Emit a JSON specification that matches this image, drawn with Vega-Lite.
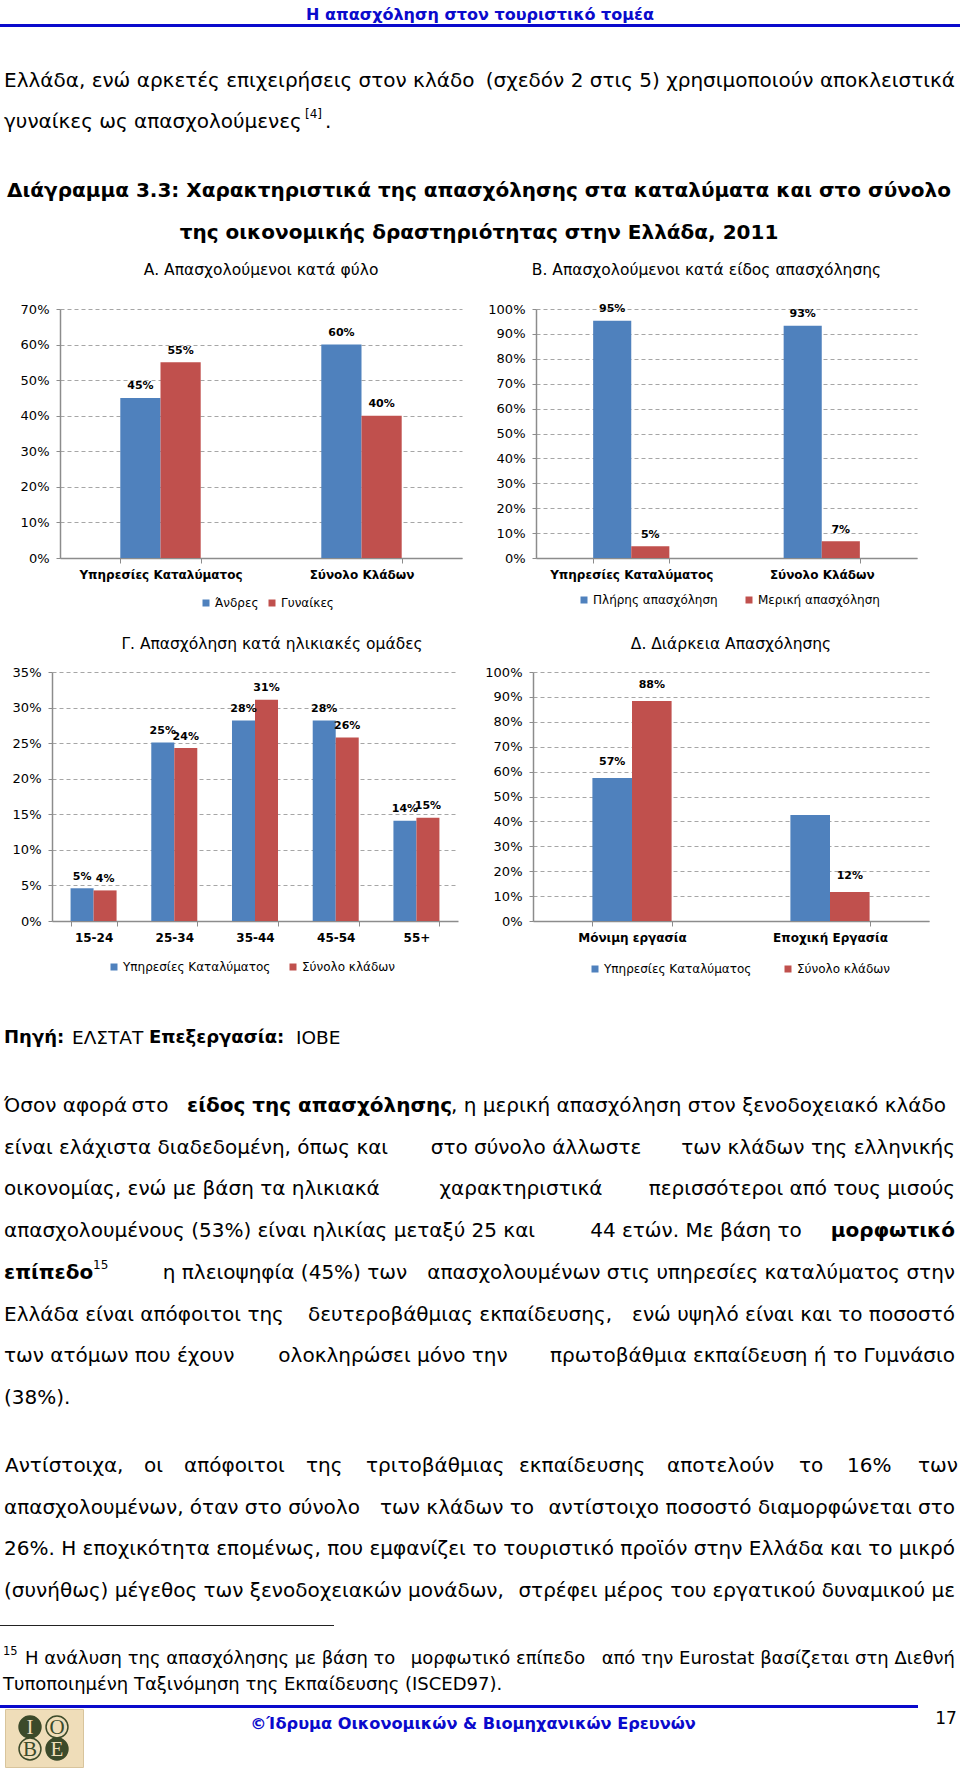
{
"$schema":"https://vega.github.io/schema/vega-lite/v6.json",
"padding":0,
"background":"white",
"spacing":0,
"bounds":"full",
"resolve":{"scale":{"x":"independent","y":"independent","color":"independent","xOffset":"independent"},"axis":{"x":"independent","y":"independent"},"legend":{"color":"independent"}},
"config":{
 "view":{"stroke":null},
 "font":"DejaVu Sans",
 "text":{"font":"DejaVu Sans","fontSize":20,"baseline":"middle","color":"#000"},
 "axisX":{"labelAngle":0,"labelFont":"DejaVu Sans","labelFontWeight":"bold","labelFontSize":12,"labelColor":"#000","labelLimit":0,"labelPadding":6,"domainColor":"#8C8C8C","domainWidth":1.5,"tickColor":"#8C8C8C","tickSize":5,"tickBand":"extent","grid":false},
 "axisY":{"labelFont":"DejaVu Sans","labelFontSize":13,"labelColor":"#000","labelPadding":7,"domainColor":"#8C8C8C","domainWidth":1.5,"tickColor":"#8C8C8C","tickSize":4,"grid":true,"gridColor":"#A6A6A6","gridDash":[4,3],"gridWidth":1},
 "legend":{"orient":"none","direction":"horizontal","symbolType":"square","symbolSize":49,"labelFont":"DejaVu Sans","labelFontSize":12,"labelColor":"#000","labelOffset":3,"padding":0,"symbolStrokeWidth":0},
 "title":{"font":"DejaVu Sans","fontSize":15.5,"fontWeight":"normal","color":"#000","anchor":"middle","frame":"group","baseline":"middle","offset":25}
},
"vconcat":[
 {"width":960,"height":24,"data":{"values":[{"t":"Η απασχόληση στον τουριστικό τομέα"}]},"mark":{"type":"text","fontWeight":"bold","fontSize":16,"color":"#0A0ACC","align":"center","dy":3},"encoding":{"text":{"field":"t"}}},
 {"width":960,"height":3,"view":{"fill":"#0A0ACC","stroke":null},"data":{"values":[]},"mark":"text","encoding":{"text":{"value":""}}},
 {"width":960,"height":33,"data":{"values":[]},"mark":"text","encoding":{"text":{"value":""}}},
 {"width":960,"height":82,
  "data":{"values":[
   {"ln":1,"p":"L","t":"Ελλάδα, ενώ αρκετές επιχειρήσεις στον κλάδο"},
   {"ln":1,"p":"R","t":"(σχεδόν 2 στις 5) χρησιμοποιούν αποκλειστικά"},
   {"ln":2,"p":"L","t":"γυναίκες ως απασχολούμενες"},
   {"ln":2,"p":"S","t":"[4]"},
   {"ln":2,"p":"D","t":"."}]},
  "encoding":{"y":{"field":"ln","type":"ordinal","axis":null},"text":{"field":"t"}},
  "layer":[
   {"transform":[{"filter":"datum.p=='L'"}],"mark":{"type":"text","align":"left"},"encoding":{"x":{"value":4}}},
   {"transform":[{"filter":"datum.p=='R'"}],"mark":{"type":"text","align":"right"},"encoding":{"x":{"value":955}}},
   {"transform":[{"filter":"datum.p=='S'"}],"mark":{"type":"text","align":"left","fontSize":12,"dy":-8},"encoding":{"x":{"value":305}}},
   {"transform":[{"filter":"datum.p=='D'"}],"mark":{"type":"text","align":"left"},"encoding":{"x":{"value":325}}}
  ]},
 {"width":960,"height":28,"data":{"values":[]},"mark":"text","encoding":{"text":{"value":""}}},
 {"width":960,"height":84,
  "data":{"values":[
   {"ln":1,"t":"Διάγραμμα 3.3: Χαρακτηριστικά της απασχόλησης στα καταλύματα και στο σύνολο"},
   {"ln":2,"t":"της οικονομικής δραστηριότητας στην Ελλάδα, 2011"}]},
  "mark":{"type":"text","align":"center","fontWeight":"bold"},
  "encoding":{"y":{"field":"ln","type":"ordinal","axis":null},"x":{"value":479},"text":{"field":"t"}}},
 {"width":960,"height":8,"data":{"values":[]},"mark":"text","encoding":{"text":{"value":""}}},
 {"hconcat":[
   {"width":60,"height":1,"data":{"values":[]},"mark":"text","encoding":{"text":{"value":""}}},
   {"width":402,"height":249,
    "title":{"text":"Α. Απασχολούμενοι κατά φύλο"},
    "data":{"values":[
     {"c":"Υπηρεσίες Καταλύματος","s":"Άνδρες","v":0.45,"l":"45%"},
     {"c":"Υπηρεσίες Καταλύματος","s":"Γυναίκες","v":0.55,"l":"55%"},
     {"c":"Σύνολο Κλάδων","s":"Άνδρες","v":0.60,"l":"60%"},
     {"c":"Σύνολο Κλάδων","s":"Γυναίκες","v":0.40,"l":"40%"}]},
    "encoding":{
     "x":{"field":"c","type":"nominal","sort":null,"scale":{"paddingInner":0.6,"paddingOuter":0.3},"axis":{"title":null}},
     "xOffset":{"field":"s","type":"nominal","sort":null},
     "y":{"field":"v","type":"quantitative","scale":{"domain":[0,0.7]},"axis":{"title":null,"values":[0,0.1,0.2,0.3,0.4,0.5,0.6,0.7],"format":".0%"}}},
    "layer":[
     {"mark":"bar","encoding":{"color":{"field":"s","type":"nominal","sort":null,"scale":{"range":["#4F81BD","#C0504D"]},"legend":{"title":null,"legendX":140,"legendY":288,"columnPadding":7}}}},
     {"mark":{"type":"text","fontWeight":"bold","fontSize":11,"dy":-11.5},"encoding":{"text":{"field":"l"}}}
    ]},
   {"width":74,"height":1,"data":{"values":[]},"mark":"text","encoding":{"text":{"value":""}}},
   {"width":381,"height":249,
    "title":{"text":"Β. Απασχολούμενοι κατά είδος απασχόλησης","dx":-20},
    "data":{"values":[
     {"c":"Υπηρεσίες Καταλύματος","s":"Πλήρης απασχόληση","v":0.953,"l":"95%"},
     {"c":"Υπηρεσίες Καταλύματος","s":"Μερική απασχόληση","v":0.047,"l":"5%"},
     {"c":"Σύνολο Κλάδων","s":"Πλήρης απασχόληση","v":0.933,"l":"93%"},
     {"c":"Σύνολο Κλάδων","s":"Μερική απασχόληση","v":0.067,"l":"7%"}]},
    "encoding":{
     "x":{"field":"c","type":"nominal","sort":null,"scale":{"paddingInner":0.6,"paddingOuter":0.3},"axis":{"title":null}},
     "xOffset":{"field":"s","type":"nominal","sort":null},
     "y":{"field":"v","type":"quantitative","scale":{"domain":[0,1]},"axis":{"title":null,"values":[0,0.1,0.2,0.3,0.4,0.5,0.6,0.7,0.8,0.9,1],"format":".0%"}}},
    "layer":[
     {"mark":"bar","encoding":{"color":{"field":"s","type":"nominal","sort":null,"scale":{"range":["#4F81BD","#C0504D"]},"legend":{"title":null,"legendX":42,"legendY":285,"columnPadding":25}}}},
     {"mark":{"type":"text","fontWeight":"bold","fontSize":11,"dy":-11.5},"encoding":{"text":{"field":"l"}}}
    ]}
  ],
  "spacing":0,"bounds":"flush",
  "resolve":{"scale":{"x":"independent","y":"independent","color":"independent","xOffset":"independent"},"axis":{"x":"independent","y":"independent"},"legend":{"color":"independent"}}},
 {"width":960,"height":26.5,"data":{"values":[]},"mark":"text","encoding":{"text":{"value":""}}},
 {"hconcat":[
   {"width":52,"height":1,"data":{"values":[]},"mark":"text","encoding":{"text":{"value":""}}},
   {"width":406,"height":249,
    "title":{"text":"Γ. Απασχόληση κατά ηλικιακές ομάδες","dx":17,"offset":14},
    "data":{"values":[
     {"c":"15-24","s":"Υπηρεσίες Καταλύματος","v":0.046,"l":"5%"},
     {"c":"15-24","s":"Σύνολο κλάδων","v":0.043,"l":"4%"},
     {"c":"25-34","s":"Υπηρεσίες Καταλύματος","v":0.251,"l":"25%"},
     {"c":"25-34","s":"Σύνολο κλάδων","v":0.243,"l":"24%"},
     {"c":"35-44","s":"Υπηρεσίες Καταλύματος","v":0.282,"l":"28%"},
     {"c":"35-44","s":"Σύνολο κλάδων","v":0.311,"l":"31%"},
     {"c":"45-54","s":"Υπηρεσίες Καταλύματος","v":0.282,"l":"28%"},
     {"c":"45-54","s":"Σύνολο κλάδων","v":0.258,"l":"26%"},
     {"c":"55+","s":"Υπηρεσίες Καταλύματος","v":0.141,"l":"14%"},
     {"c":"55+","s":"Σύνολο κλάδων","v":0.145,"l":"15%"}]},
    "encoding":{
     "x":{"field":"c","type":"nominal","sort":null,"scale":{"paddingInner":0.43,"paddingOuter":0.23},"axis":{"title":null}},
     "xOffset":{"field":"s","type":"nominal","sort":null},
     "y":{"field":"v","type":"quantitative","scale":{"domain":[0,0.35]},"axis":{"title":null,"values":[0,0.05,0.1,0.15,0.2,0.25,0.3,0.35],"format":".0%"}}},
    "layer":[
     {"mark":"bar","encoding":{"color":{"field":"s","type":"nominal","sort":null,"scale":{"range":["#4F81BD","#C0504D"]},"legend":{"title":null,"legendX":56,"legendY":289,"columnPadding":16}}}},
     {"mark":{"type":"text","fontWeight":"bold","fontSize":11,"dy":-11.5},"encoding":{"text":{"field":"l"}}}
    ]},
   {"width":75,"height":1,"data":{"values":[]},"mark":"text","encoding":{"text":{"value":""}}},
   {"width":396,"height":249,
    "title":{"text":"Δ. Διάρκεια Απασχόλησης","offset":14},
    "data":{"values":[
     {"c":"Μόνιμη εργασία","s":"Υπηρεσίες Καταλύματος","v":0.574,"l":"57%"},
     {"c":"Μόνιμη εργασία","s":"Σύνολο κλάδων","v":0.884,"l":"88%"},
     {"c":"Εποχική Εργασία","s":"Υπηρεσίες Καταλύματος","v":0.426,"l":""},
     {"c":"Εποχική Εργασία","s":"Σύνολο κλάδων","v":0.116,"l":"12%"}]},
    "encoding":{
     "x":{"field":"c","type":"nominal","sort":null,"scale":{"paddingInner":0.6,"paddingOuter":0.3},"axis":{"title":null}},
     "xOffset":{"field":"s","type":"nominal","sort":null},
     "y":{"field":"v","type":"quantitative","scale":{"domain":[0,1]},"axis":{"title":null,"values":[0,0.1,0.2,0.3,0.4,0.5,0.6,0.7,0.8,0.9,1],"format":".0%"}}},
    "layer":[
     {"mark":"bar","encoding":{"color":{"field":"s","type":"nominal","sort":null,"scale":{"range":["#4F81BD","#C0504D"]},"legend":{"title":null,"legendX":56,"legendY":291,"columnPadding":30}}}},
     {"mark":{"type":"text","fontWeight":"bold","fontSize":11,"dy":-16},"encoding":{"text":{"field":"l"}}}
    ]}
  ],
  "spacing":0,"bounds":"flush",
  "resolve":{"scale":{"x":"independent","y":"independent","color":"independent","xOffset":"independent"},"axis":{"x":"independent","y":"independent"},"legend":{"color":"independent"}}},
 {"width":960,"height":42,"data":{"values":[]},"mark":"text","encoding":{"text":{"value":""}}},
 {"width":960,"height":42,
  "data":{"values":[
   {"k":1,"b":"y","t":"Πηγή:"},
   {"k":2,"b":"n","t":"ΕΛΣΤΑΤ"},
   {"k":3,"b":"y","t":"Επεξεργασία:"},
   {"k":4,"b":"n","t":"ΙΟΒΕ"}]},
  "encoding":{"x":{"field":"k","type":"quantitative","axis":null,"scale":{"domain":[1,2,3,4],"range":[4,72,149,296],"zero":false,"nice":false}},"text":{"field":"t"}},
  "layer":[
   {"transform":[{"filter":"datum.b=='y'"}],"mark":{"type":"text","align":"left","fontWeight":"bold","fontSize":18}},
   {"transform":[{"filter":"datum.b=='n'"}],"mark":{"type":"text","align":"left","fontSize":18.5}}
  ]},
 {"width":960,"height":26,"data":{"values":[]},"mark":"text","encoding":{"text":{"value":""}}},
 {"width":960,"height":334,
  "data":{"values":[
   {"ln":1,"p":"L","t":"Όσον αφορά"},
   {"ln":1,"p":"M","t":"στο"},
   {"ln":1,"p":"BX","t":"είδος της απασχόλησης"},
   {"ln":1,"p":"RX","t":", η μερική απασχόληση στον ξενοδοχειακό κλάδο"},
   {"ln":2,"p":"L","t":"είναι ελάχιστα διαδεδομένη, όπως και"},
   {"ln":2,"p":"M","t":"στο σύνολο άλλωστε"},
   {"ln":2,"p":"R","t":"των κλάδων της ελληνικής"},
   {"ln":3,"p":"L","t":"οικονομίας, ενώ με βάση τα ηλικιακά"},
   {"ln":3,"p":"M","t":"χαρακτηριστικά"},
   {"ln":3,"p":"R","t":"περισσότεροι από τους μισούς"},
   {"ln":4,"p":"L","t":"απασχολουμένους (53%) είναι ηλικίας μεταξύ 25 και"},
   {"ln":4,"p":"M","t":"44 ετών. Με βάση το"},
   {"ln":4,"p":"BR","t":"μορφωτικό"},
   {"ln":5,"p":"BL","t":"επίπεδο"},
   {"ln":5,"p":"S","t":"15"},
   {"ln":5,"p":"M","t":"η πλειοψηφία (45%) των"},
   {"ln":5,"p":"R","t":"απασχολουμένων στις υπηρεσίες καταλύματος στην"},
   {"ln":6,"p":"L","t":"Ελλάδα είναι απόφοιτοι της"},
   {"ln":6,"p":"M","t":"δευτεροβάθμιας εκπαίδευσης,"},
   {"ln":6,"p":"R","t":"ενώ υψηλό είναι και το ποσοστό"},
   {"ln":7,"p":"L","t":"των ατόμων που έχουν"},
   {"ln":7,"p":"M","t":"ολοκληρώσει μόνο την"},
   {"ln":7,"p":"R","t":"πρωτοβάθμια εκπαίδευση ή το Γυμνάσιο"},
   {"ln":8,"p":"L","t":"(38%)."}]},
  "encoding":{"y":{"field":"ln","type":"ordinal","axis":null},"text":{"field":"t"}},
  "layer":[
   {"transform":[{"filter":"datum.p=='L'"}],"mark":{"type":"text","align":"left"},"encoding":{"x":{"value":4}}},
   {"transform":[{"filter":"datum.p=='R'"}],"mark":{"type":"text","align":"right"},"encoding":{"x":{"value":955}}},
   {"transform":[{"filter":"datum.p=='M'"}],"mark":{"type":"text","align":"center"},"encoding":{"x":{"field":"ln","type":"quantitative","axis":null,"scale":{"domain":[1,2,3,4,5,6,7],"range":[150,536,521,696,285,460,393],"zero":false,"nice":false}}}},
   {"transform":[{"filter":"datum.p=='BX'"}],"mark":{"type":"text","align":"left","fontWeight":"bold"},"encoding":{"x":{"value":187}}},
   {"transform":[{"filter":"datum.p=='RX'"}],"mark":{"type":"text","align":"left"},"encoding":{"x":{"value":451}}},
   {"transform":[{"filter":"datum.p=='BR'"}],"mark":{"type":"text","align":"right","fontWeight":"bold"},"encoding":{"x":{"value":955}}},
   {"transform":[{"filter":"datum.p=='BL'"}],"mark":{"type":"text","align":"left","fontWeight":"bold"},"encoding":{"x":{"value":4}}},
   {"transform":[{"filter":"datum.p=='S'"}],"mark":{"type":"text","align":"left","fontSize":12,"dy":-8},"encoding":{"x":{"value":93}}}
  ]},
 {"width":960,"height":26,"data":{"values":[]},"mark":"text","encoding":{"text":{"value":""}}},
 {"width":960,"height":167,
  "data":{"values":[
   {"ln":1,"p":"W","w":1,"t":"Αντίστοιχα,"},
   {"ln":1,"p":"W","w":2,"t":"οι"},
   {"ln":1,"p":"W","w":3,"t":"απόφοιτοι"},
   {"ln":1,"p":"W","w":4,"t":"της"},
   {"ln":1,"p":"W","w":5,"t":"τριτοβάθμιας"},
   {"ln":1,"p":"W","w":6,"t":"εκπαίδευσης"},
   {"ln":1,"p":"W","w":7,"t":"αποτελούν"},
   {"ln":1,"p":"W","w":8,"t":"το"},
   {"ln":1,"p":"W","w":9,"t":"16%"},
   {"ln":1,"p":"W","w":10,"t":"των"},
   {"ln":2,"p":"L","t":"απασχολουμένων, όταν στο σύνολο"},
   {"ln":2,"p":"M","t":"των κλάδων το"},
   {"ln":2,"p":"R","t":"αντίστοιχο ποσοστό διαμορφώνεται στο"},
   {"ln":3,"p":"L","t":"26%. Η εποχικότητα επομένως, που εμφανίζει"},
   {"ln":3,"p":"R","t":"το τουριστικό προϊόν στην Ελλάδα και το μικρό"},
   {"ln":4,"p":"L","t":"(συνήθως) μέγεθος των ξενοδοχειακών μονάδων,"},
   {"ln":4,"p":"R","t":"στρέφει μέρος του εργατικού δυναμικού με"}]},
  "encoding":{"y":{"field":"ln","type":"ordinal","axis":null},"text":{"field":"t"}},
  "layer":[
   {"transform":[{"filter":"datum.p=='W'"}],"mark":{"type":"text","align":"left"},"encoding":{"x":{"field":"w","type":"quantitative","axis":null,"scale":{"domain":[1,2,3,4,5,6,7,8,9,10],"range":[5,144,184,306,366,519,667,799,847,918],"zero":false,"nice":false}}}},
   {"transform":[{"filter":"datum.p=='M'"}],"mark":{"type":"text","align":"center"},"encoding":{"x":{"field":"ln","type":"quantitative","axis":null,"scale":{"domain":[1,2],"range":[100,457],"zero":false,"nice":false}}}},
   {"transform":[{"filter":"datum.p=='L'"}],"mark":{"type":"text","align":"left"},"encoding":{"x":{"value":4}}},
   {"transform":[{"filter":"datum.p=='R'"}],"mark":{"type":"text","align":"right"},"encoding":{"x":{"value":955}}}
  ],
  "resolve":{"scale":{"x":"independent"}}},
 {"width":960,"height":13,"data":{"values":[]},"mark":"text","encoding":{"text":{"value":""}}},
 {"width":334,"height":1,"view":{"fill":"#222222","stroke":null},"data":{"values":[]},"mark":"text","encoding":{"text":{"value":""}}},
 {"width":960,"height":20,"data":{"values":[]},"mark":"text","encoding":{"text":{"value":""}}},
 {"width":960,"height":52,
  "data":{"values":[
   {"ln":1,"p":"S","t":"15"},
   {"ln":1,"p":"L2","t":"Η ανάλυση της απασχόλησης με βάση το"},
   {"ln":1,"p":"M","t":"μορφωτικό επίπεδο"},
   {"ln":1,"p":"R","t":"από την Eurostat βασίζεται στη Διεθνή"},
   {"ln":2,"p":"L","t":"Τυποποιημένη Ταξινόμηση της Εκπαίδευσης (ISCED97)."}]},
  "encoding":{"y":{"field":"ln","type":"ordinal","axis":null},"text":{"field":"t"}},
  "layer":[
   {"transform":[{"filter":"datum.p=='S'"}],"mark":{"type":"text","align":"left","fontSize":11.5,"dy":-7},"encoding":{"x":{"value":3}}},
   {"transform":[{"filter":"datum.p=='L2'"}],"mark":{"type":"text","align":"left","fontSize":18},"encoding":{"x":{"value":25}}},
   {"transform":[{"filter":"datum.p=='M'"}],"mark":{"type":"text","align":"center","fontSize":18},"encoding":{"x":{"field":"ln","type":"quantitative","axis":null,"scale":{"domain":[1,2],"range":[498,0],"zero":false,"nice":false}}}},
   {"transform":[{"filter":"datum.p=='R'"}],"mark":{"type":"text","align":"right","fontSize":18},"encoding":{"x":{"value":955}}},
   {"transform":[{"filter":"datum.p=='L'"}],"mark":{"type":"text","align":"left","fontSize":18},"encoding":{"x":{"value":3}}}
  ]},
 {"width":960,"height":7,"data":{"values":[]},"mark":"text","encoding":{"text":{"value":""}}},
 {"width":918,"height":3,"view":{"fill":"#0A0ACC","stroke":null},"data":{"values":[]},"mark":"text","encoding":{"text":{"value":""}}},
 {"hconcat":[
   {"width":5,"height":1,"data":{"values":[]},"mark":"text","encoding":{"text":{"value":""}}},
   {"width":78,"height":58,"view":{"fill":"#EFDDB9","stroke":"#D8C49C"},
    "data":{"values":[
     {"c":0,"r":0,"t":"Ι","d":"y"},
     {"c":1,"r":0,"t":"Ο","d":"n"},
     {"c":0,"r":1,"t":"Β","d":"n"},
     {"c":1,"r":1,"t":"Ε","d":"y"}]},
    "encoding":{
     "x":{"field":"c","type":"ordinal","axis":null,"scale":{"range":[25,52],"padding":0}},
     "y":{"field":"r","type":"ordinal","axis":null,"scale":{"range":[18,40],"padding":0}}},
    "layer":[
     {"mark":{"type":"point","shape":"circle","filled":true,"size":480,"stroke":"#3C4A2A","strokeWidth":1.5,"opacity":1},"encoding":{"fill":{"field":"d","type":"nominal","scale":{"domain":["y","n"],"range":["#3C4A2A","#EFDDB9"]},"legend":null}}},
     {"mark":{"type":"text","font":"Liberation Serif","fontSize":21,"align":"center","dy":1},"encoding":{"text":{"field":"t"},"color":{"field":"d","type":"nominal","scale":{"domain":["y","n"],"range":["#EFDDB9","#3C4A2A"]},"legend":null}}}
    ]},
   {"width":877,"height":68,
    "layer":[
     {"data":{"values":[{"t":"©Ίδρυμα Οικονομικών & Βιομηχανικών Ερευνών"}]},"mark":{"type":"text","align":"center","fontWeight":"bold","fontSize":16.2,"color":"#0A0ACC"},"encoding":{"text":{"field":"t"},"x":{"value":390},"y":{"value":15}}},
     {"data":{"values":[{"t":"17"}]},"mark":{"type":"text","align":"center","fontSize":17},"encoding":{"text":{"field":"t"},"x":{"value":863},"y":{"value":10}}}
    ]}
  ],
  "spacing":0,"bounds":"flush",
  "resolve":{"scale":{"x":"independent","y":"independent","color":"independent"}}}
]
}
